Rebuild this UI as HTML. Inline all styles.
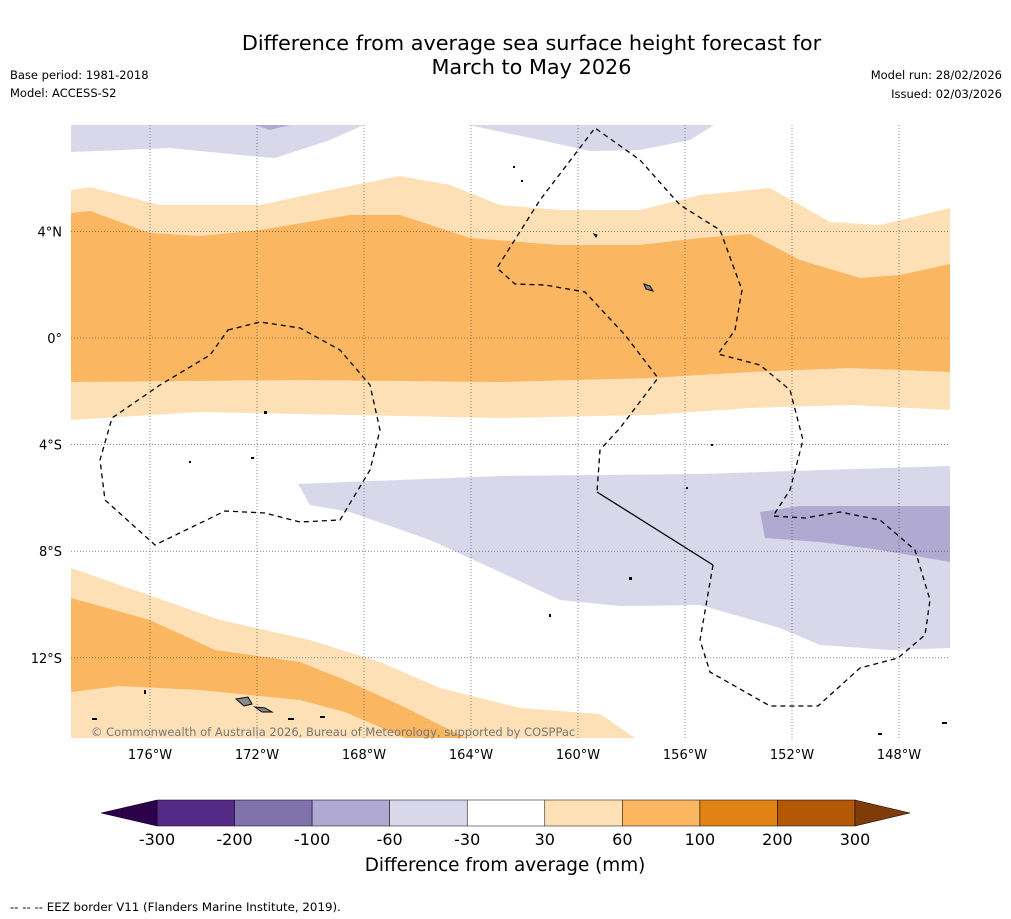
<!DOCTYPE html>
<html><head><meta charset="utf-8"><style>
body{margin:0;background:#fff;font-family:"DejaVu Sans","Liberation Sans",sans-serif;}
#wrap{position:relative;width:1011px;height:919px;overflow:hidden;background:#fff}
.t{position:absolute;white-space:nowrap}
svg text{font-family:"DejaVu Sans","Liberation Sans",sans-serif}
</style></head><body>
<div id="wrap">
<div class="t" style="left:0;width:1063px;top:31px;text-align:center;font-size:20.8px;line-height:24px;color:#000">Difference from average sea surface height forecast for<br>March to May 2026</div>
<div class="t" style="left:10px;top:68px;font-size:11.5px">Base period: 1981-2018</div>
<div class="t" style="left:10px;top:86px;font-size:11.5px">Model: ACCESS-S2</div>
<div class="t" style="right:9px;top:68px;font-size:11.5px;text-align:right">Model run: 28/02/2026</div>
<div class="t" style="right:9px;top:87px;font-size:11.5px;text-align:right">Issued: 02/03/2026</div>
<svg id="map" width="1011" height="919" style="position:absolute;left:0;top:0">
<defs><clipPath id="mc"><rect x="71" y="125" width="879" height="613"/></clipPath></defs>
<g clip-path="url(#mc)">
<path fill="#d8d8ea" d="M71,120 L375,120 L330,140 L275,158 L240,155 L170,148 L71,152 Z"/>
<path fill="#b0a9d2" d="M255,125 L290,125 L270,130 Z"/>
<path fill="#d8d8ea" d="M445,120 L722,120 L690,140 L640,150 L590,151 L540,140 Z"/>
<path fill="#fde0b6" d="M71,190 L90,187 L160,205 L260,205 L330,190 L400,176 L450,185 L500,205 L560,210 L640,210 L700,195 L770,188 L830,222 L880,225 L950,208 L950,410 L850,405 L750,408 L650,415 L500,418 L350,415 L200,412 L71,420 Z"/>
<path fill="#fab660" d="M71,213 L90,211 L150,233 L200,236 L260,230 L350,215 L400,215 L470,238 L560,245 L640,245 L700,238 L750,234 L800,260 L860,278 L900,275 L950,264 L950,372 L850,368 L750,372 L650,378 L500,382 L300,380 L71,382 Z"/>
<path fill="#d8d8ea" d="M298,484 L500,476 L700,474 L950,466 L950,648 L890,650 L820,645 L780,628 L700,605 L620,606 L560,600 L500,572 L430,540 L350,512 L310,505 Z"/>
<path fill="#b0a9d2" d="M760,512 L800,506 L950,506 L950,562 L880,550 L820,542 L765,538 Z"/>
<path fill="#fde0b6" d="M71,568 L140,592 L220,620 L310,640 L380,662 L440,688 L520,708 L600,714 L635,738 L71,738 Z"/>
<path fill="#fab660" d="M71,598 L150,620 L215,650 L300,662 L345,680 L400,705 L470,740 L410,740 L345,712 L300,700 L200,690 L120,686 L71,692 Z"/>
<g fill="#888" stroke="#000" stroke-width="1">
<path d="M236,699 L248,697 L252,704 L244,706 Z"/><path d="M255,707 L265,708 L272,712 L262,712 Z"/>
<path d="M644,284 L650,286 L653,291 L646,289 Z"/><path d="M594,234 L597,235 L596,237 Z"/>
</g>
<g fill="#000">
<rect x="144" y="690" width="2" height="4"/><rect x="92" y="718" width="5" height="2"/><rect x="288" y="718" width="6" height="2"/><rect x="320" y="716" width="5" height="2"/>
<rect x="264" y="411" width="3" height="3"/><rect x="251" y="457" width="3" height="2"/><rect x="189" y="461" width="2" height="2"/><rect x="629" y="577" width="3" height="3"/><rect x="549" y="614" width="2" height="3"/><rect x="711" y="444" width="2" height="2"/><rect x="686" y="487" width="2" height="2"/><rect x="513" y="166" width="2" height="2"/><rect x="521" y="180" width="2" height="2"/><rect x="878" y="733" width="4" height="2"/><rect x="942" y="722" width="5" height="2"/>
</g>
</g>
<g id="grid" stroke="#444" stroke-width="0.6" stroke-dasharray="1,2"></g>
<g fill="none" stroke="#000" stroke-width="1.3" stroke-dasharray="5,4">
<path d="M228,330 L260,322 L300,328 L340,350 L370,385 L380,430 L370,470 L340,520 L300,522 L265,513 L225,511 L155,545 L105,500 L100,460 L112,418 L160,385 L210,355 Z"/>
<path d="M713,565 L700,640 L710,672 L770,706 L818,706 L860,668 L898,658 L925,635 L930,600 L915,550 L880,520 L840,512 L805,518 L773,516 L790,490 L803,440 L790,390 L760,365 L718,354 L735,330 L742,290 L720,230 L680,205 L640,160 L595,128 L540,200 L497,268 L515,284 L545,285 L585,292 L625,335 L658,378 L620,428 L600,450 L597,492"/>
</g>
<path d="M597,492 L713,565" stroke="#000" stroke-width="1.3" fill="none"/>
<text x="91" y="736" font-size="11.5" fill="#777">© Commonwealth of Australia 2026, Bureau of Meteorology, supported by COSPPac</text>
<g id="axes" font-size="13" fill="#000"></g>
<g id="cbar"></g>
<text x="505" y="871" text-anchor="middle" font-size="18.4">Difference from average (mm)</text>
<text x="10" y="911" font-size="11.8">--  --  -- EEZ border V11 (Flanders Marine Institute, 2019).</text>
</svg>
</div>
<script>
const lonTicks=[-176,-172,-168,-164,-160,-156,-152,-148];
const latTicks=[4,0,-4,-8,-12];
const levels=[-300,-200,-100,-60,-30,30,60,100,200,300];
const levelColors=["#552a87","#7f72ad","#b0a9d2","#d8d8ea","#ffffff","#fde0b6","#fab660","#e08214","#b35806"];
const NS="http://www.w3.org/2000/svg";
function xLon(l){return 150+(l+176)*26.75;}
function yLat(l){return 338-l*26.65;}
function mk(t,a,p){const e=document.createElementNS(NS,t);for(const k in a)e.setAttribute(k,a[k]);p.appendChild(e);return e;}
const grid=document.getElementById('grid'),axes=document.getElementById('axes');
lonTicks.forEach(l=>{const x=xLon(l);
 const g=mk('line',{x1:x,x2:x,y1:125,y2:738},grid);
 
 
 const t=mk('text',{x:x,y:759,'text-anchor':'middle'},axes);t.textContent=Math.abs(l)+'°W';
 
 });
latTicks.forEach(l=>{const y=yLat(l);
 const g=mk('line',{x1:71,x2:950,y1:y,y2:y},grid);
 
 
 const t=mk('text',{x:62,y:y+5,'text-anchor':'end'},axes);t.textContent=l===0?'0°':Math.abs(l)+'°'+(l>0?'N':'S');
 
 });
const cb=document.getElementById('cbar');const x0=157,x1=855,y0=800,h=26,w=(x1-x0)/levelColors.length;
levelColors.forEach((c,i)=>{const r=mk('rect',{x:x0+i*w,y:y0,width:w,height:h,fill:c,stroke:'#000','stroke-width':0.5},cb);
 
 });
const a1=mk('polygon',{points:`${x0},${y0} 101,${y0+h/2} ${x0},${y0+h}`,fill:'#2d004b',stroke:'#000','stroke-width':0.5},cb);


const a2=mk('polygon',{points:`${x1},${y0} 910,${y0+h/2} ${x1},${y0+h}`,fill:'#7f3b08',stroke:'#000','stroke-width':0.5},cb);


levels.forEach((v,i)=>{const t=mk('text',{x:x0+i*w,y:845,'text-anchor':'middle','font-size':16},cb);t.textContent=v;
 
 });
</script>
</body></html>
